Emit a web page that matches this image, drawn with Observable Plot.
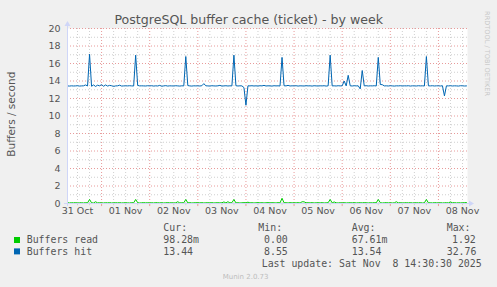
<!DOCTYPE html>
<html><head><meta charset="utf-8">
<script src="https://cdn.jsdelivr.net/npm/d3@7"></script>
<script src="https://cdn.jsdelivr.net/npm/@observablehq/plot@0.6"></script>
<style>
html,body{margin:0;padding:0;background:#F0F0F0;}
#chart{width:497px;height:287px;overflow:hidden;}
</style></head><body><div id="chart"></div>
<script>
// ---- data (hourly samples, UTC) ----
const dayStarts = ["2025-10-31","2025-11-01","2025-11-02","2025-11-03","2025-11-04","2025-11-05","2025-11-06","2025-11-07","2025-11-08"];
const firstHours = [7,0,0,0,0,0,0,0,0];

const hitOct31 = [13.44,13.42,13.45,13.43,13.44,13.46,13.42,13.44,13.45,13.55,13.43,17.06,13.40,13.55,13.38,13.52,13.45];
const hitNov01 = [13.58,13.40,13.55,13.42,13.50,13.46,13.38,13.44,13.45,13.52,13.42,13.44,13.45,13.44,13.46,13.44,13.43,16.95,13.50,13.44,13.45,13.44,13.43,13.46];
const hitNov02 = [13.44,13.46,13.42,13.45,13.43,13.50,13.40,13.44,13.47,13.42,13.45,13.44,13.43,13.46,13.44,13.42,13.45,13.44,16.80,13.48,13.44,13.42,13.45,13.44];
const hitNov03 = [13.45,13.43,13.46,13.70,13.45,13.44,13.42,13.46,13.44,13.43,13.45,13.50,13.42,13.44,13.46,13.43,13.45,13.44,16.95,13.46,13.43,13.45,13.44,13.25];
const hitNov04 = [11.23,13.45,13.44,13.46,13.43,13.45,13.42,13.46,13.44,13.50,13.43,13.45,13.44,13.42,13.46,13.44,13.45,13.43,16.70,13.46,13.44,13.50,13.43,13.45];
const hitNov05 = [13.44,13.46,13.42,13.45,13.44,13.43,13.46,13.44,13.45,13.42,13.46,13.44,13.43,13.45,13.44,13.46,13.42,13.45,16.95,13.44,13.45,13.43,13.46,13.44];
const hitNov06 = [13.45,14.00,13.44,14.65,13.45,13.43,13.46,13.44,13.45,13.10,15.20,13.44,13.46,13.43,13.45,13.44,13.46,13.43,16.70,13.60,13.58,13.44,13.45,13.43];
const hitNov07 = [13.46,13.44,13.42,13.45,13.44,13.46,13.43,13.45,13.44,13.46,13.42,13.45,13.44,13.43,13.46,13.44,13.45,13.43,16.80,13.45,13.44,13.46,13.43,13.45];
const hitNov08 = [13.45,13.43,13.46,12.30,13.45,13.44,13.46,13.43,13.45,13.44,13.42,13.46,13.45,13.43,13.44];

const readOct31 = [0.10,0.06,0.09,0.07,0.10,0.06,0.08,0.09,0.06,0.10,0.07,0.46,0.08,0.06,0.20,0.07,0.09];
const readNov01 = [0.08,0.06,0.09,0.07,0.10,0.06,0.08,0.09,0.07,0.10,0.06,0.08,0.09,0.07,0.06,0.10,0.08,0.46,0.09,0.06,0.08,0.10,0.07,0.09];
const readNov02 = [0.07,0.09,0.06,0.10,0.08,0.07,0.09,0.06,0.08,0.10,0.07,0.09,0.06,0.08,0.20,0.07,0.09,0.08,0.46,0.07,0.10,0.06,0.08,0.09];
const readNov03 = [0.09,0.07,0.10,0.06,0.08,0.09,0.07,0.10,0.06,0.08,0.09,0.07,0.08,0.18,0.07,0.20,0.08,0.09,0.46,0.07,0.09,0.06,0.08,0.10];
const readNov04 = [0.08,0.15,0.07,0.09,0.06,0.08,0.10,0.07,0.09,0.06,0.08,0.10,0.07,0.09,0.08,0.06,0.10,0.07,0.60,0.08,0.09,0.06,0.10,0.07];
const readNov05 = [0.09,0.07,0.10,0.06,0.20,0.19,0.08,0.09,0.07,0.10,0.06,0.08,0.09,0.07,0.10,0.06,0.08,0.09,0.46,0.07,0.18,0.08,0.06,0.09];
const readNov06 = [0.07,0.10,0.06,0.08,0.09,0.07,0.10,0.06,0.08,0.09,0.07,0.10,0.08,0.06,0.09,0.07,0.10,0.08,0.46,0.09,0.06,0.08,0.10,0.07];
const readNov07 = [0.09,0.06,0.08,0.20,0.07,0.10,0.06,0.08,0.09,0.07,0.10,0.06,0.08,0.09,0.07,0.10,0.06,0.08,0.46,0.07,0.09,0.06,0.10,0.08];
const readNov08 = [0.07,0.10,0.06,0.08,0.09,0.07,0.18,0.08,0.10,0.06,0.09,0.07,0.08,0.10,0.098];

const hitDays = [hitOct31,hitNov01,hitNov02,hitNov03,hitNov04,hitNov05,hitNov06,hitNov07,hitNov08];
const readDays = [readOct31,readNov01,readNov02,readNov03,readNov04,readNov05,readNov06,readNov07,readNov08];

const yTicks = [0,2,4,6,8,10,12,14,16,18,20];
const yMinor = [1,3,5,7,9,11,13,15,17,19];

const title = "PostgreSQL buffer cache (ticket) - by week";
const yLabel = "Buffers / second";
const sideText = "RRDTOOL / TOBI OETIKER";
const seriesNames = ["Buffers read","Buffers hit"];
const seriesColors = ["#00CC00","#0066B3"];
const colHeads = ["Cur:","Min:","Avg:","Max:"];
const readStats = ["98.28m","0.00","67.61m","1.92"];
const hitStats = ["13.44","8.55","13.54","32.76"];
const lastUpdate = "Last update: Sat Nov  8 14:30:30 2025";
const footer = "Munin 2.0.73";

// ---- build rows ----
function rows(days) {
  const out = [];
  days.forEach((arr, di) => {
    const base = new Date(dayStarts[di] + "T00:00:00Z");
    arr.forEach((v, j) => {
      out.push({t: new Date(+base + (firstHours[di] + j) * 3600e3), v});
    });
  });
  return out;
}
const hitRows = rows(hitDays);
const readRows = rows(readDays);

const x0 = new Date(Date.UTC(2025, 9, 31, 7, 0));
const x1 = new Date(Date.UTC(2025, 10, 8, 14, 30));
const majorX = d3.utcDay.range(x0, x1);
const minorX = d3.utcHour.every(6).range(x0, x1).filter(d => d.getUTCHours() !== 0);
const labelX = d3.utcHour.range(x0, x1).filter(d => d.getUTCHours() === 12);

const gridGray = "#cfcfcf";
const gridRed = "#e89a9a";
const axisCol = "#CFD6F8";
const fontCol = "#555";

const chart = Plot.plot({
  width: 497, height: 287,
  marginLeft: 67, marginRight: 30, marginTop: 28, marginBottom: 84,
  style: {background: "#F0F0F0", fontFamily: "DejaVu Sans", fontSize: "9.5px", color: fontCol, overflow: "visible"},
  x: {type: "utc", domain: [x0, x1]},
  y: {domain: [0, 20]},
  marks: [
    Plot.frame({fill: "white", stroke: null}),
    Plot.ruleX(minorX, {stroke: gridGray, strokeDasharray: "1,2"}),
    Plot.ruleY(yMinor, {stroke: gridGray, strokeDasharray: "1,2"}),
    Plot.ruleX(majorX, {stroke: gridRed, strokeDasharray: "1,2"}),
    Plot.ruleY(yTicks, {stroke: gridRed, strokeDasharray: "1,2"}),
    Plot.ruleX(majorX, {y1: 0, y2: -0.35, stroke: gridRed}),
    Plot.ruleX(minorX, {y1: 0, y2: -0.25, stroke: gridGray}),
    Plot.axisY(yTicks, {tickSize: 0, tickPadding: 7, label: null, fill: fontCol}),
    Plot.axisX(labelX, {tickSize: 0, tickPadding: 4, label: null, fill: fontCol, tickFormat: d3.utcFormat("%d %b")}),
    Plot.lineY(readRows, {x: "t", y: "v", stroke: seriesColors[0], strokeWidth: 1}),
    Plot.lineY(hitRows, {x: "t", y: "v", stroke: seriesColors[1], strokeWidth: 1})
  ]
});
document.getElementById("chart").appendChild(chart);

// ---- decorations: axes arrows, title, legend ----
const svg = d3.select(chart);
const g = svg.append("g");
g.append("line").attr("x1", 67.5).attr("x2", 67.5).attr("y1", 206).attr("y2", 25).attr("stroke", axisCol);
g.append("path").attr("d", "M64.5,26 L70.5,26 L67.5,21 Z").attr("fill", axisCol);
g.append("line").attr("x1", 64).attr("x2", 470).attr("y1", 203.5).attr("y2", 203.5).attr("stroke", axisCol);
g.append("path").attr("d", "M469,200.5 L469,206.5 L474,203.5 Z").attr("fill", axisCol);

const txt = (x, y, s, o = {}) => {
  const t = g.append("text").attr("x", x).attr("y", y).text(s)
    .attr("fill", o.fill || fontCol)
    .attr("font-family", o.family || "DejaVu Sans")
    .attr("font-size", o.size || "10px")
    .attr("text-anchor", o.anchor || "start")
    .style("white-space", "pre");
  if (o.transform) t.attr("transform", o.transform);
  return t;
};
txt(248.7, 24.3, title, {size: "12.6px", anchor: "middle"});
txt(0, 0, yLabel, {size: "10.5px", anchor: "middle", transform: "translate(15,114.2) rotate(-90)"});
txt(0, 0, sideText, {size: "6.6px", anchor: "middle", fill: "#c8c8c8", transform: "translate(485,53.5) rotate(90)"});

const mono = {family: "DejaVu Sans Mono", size: "9.9px"};
const headX = [163.3, 258.3, 351.7, 446.7];
colHeads.forEach((h, i) => txt(headX[i], 231.3, h, mono));
const readX = [163.3, 264, 351.7, 452];
const hitX = [163.3, 264, 351.7, 446.7];
seriesNames.forEach((n, i) => {
  const yb = i === 0 ? 243.3 : 254.7;
  g.append("rect").attr("x", 14).attr("y", yb - 6.3).attr("width", 6).attr("height", 6).attr("fill", seriesColors[i]);
  txt(26.7, yb, n, mono);
  const vals = i === 0 ? readStats : hitStats;
  const xs = i === 0 ? readX : hitX;
  vals.forEach((v, k) => txt(xs[k], yb, v, mono));
});
txt(261.7, 266.6, lastUpdate, mono);
txt(222.7, 279, footer, {size: "7px", fill: "#bdbdbd"});
</script>
</body></html>
